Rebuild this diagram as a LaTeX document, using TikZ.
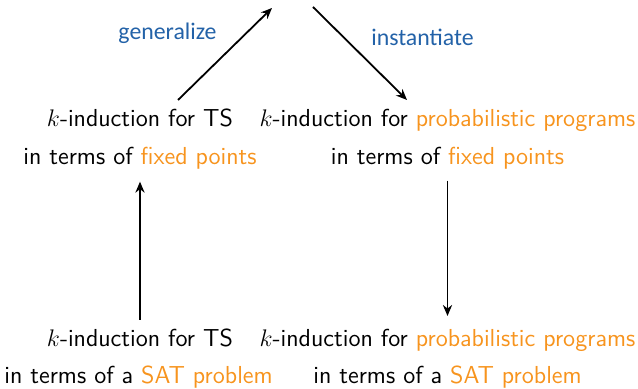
\documentclass[tikz,border=0pt]{standalone}
\usepackage{fontspec}
\usetikzlibrary{arrows.meta}
\newfontfamily\labelfont{Carlito}
\definecolor{hl}{RGB}{247,148,30}
\definecolor{act}{RGB}{35,98,168}
\newcommand{\hlt}[1]{\textcolor{hl}{#1}}
\begin{document}
\begin{tikzpicture}[x=0.5pt,y=-0.5pt,
  txt/.style={anchor=base,inner sep=0pt,font=\sffamily\fontsize{12.3}{14}\selectfont},
  act/.style={anchor=base,inner sep=0pt,text=act,font=\labelfont\fontsize{11.9}{14}\selectfont},
  arr/.style={line width=0.9pt,-{Stealth[length=5.5pt,width=4.6pt]}}]
  \useasboundingbox (0,0) rectangle (638,389);
  % fixed-point formulations
  \node[txt] (tl1) at (140,126.7) {$k$-induction for TS};
  \node[txt] (tl2) at (140,164.5) {in terms of \hlt{fixed points}};
  \node[txt] (tr1) at (447.5,126.7) {$k$-induction for \hlt{probabilistic programs}};
  \node[txt] (tr2) at (447.5,164.5) {in terms of \hlt{fixed points}};
  % SAT formulations
  \node[txt] (bl1) at (140,346.7) {$k$-induction for TS};
  \node[txt] (bl2) at (138.5,383.3) {in terms of a \hlt{SAT problem}};
  \node[txt] (br1) at (447.5,346.7) {$k$-induction for \hlt{probabilistic programs}};
  \node[txt] (br2) at (447.5,383.3) {in terms of a \hlt{SAT problem}};
  % generalize / instantiate
  \coordinate (genS) at (178,100);
  \coordinate (genE) at (272,8);
  \coordinate (insS) at (313,7);
  \coordinate (insE) at (407,100);
  \draw[arr] (genS) -- (genE);
  \draw[arr] (insS) -- (insE);
  \node[act] (gen) at (167.5,40) {generalize};
  \node[act] (ins) at (422.5,45.7) {instantiate};
  % vertical connections
  \draw[arr,shorten <=4.5pt,shorten >=6pt] (bl1.north) -- (tl2.south);
  \draw[arr,shorten <=5.5pt,shorten >=6.5pt] (tr2.south) -- (br1.north);
\end{tikzpicture}
\end{document}
